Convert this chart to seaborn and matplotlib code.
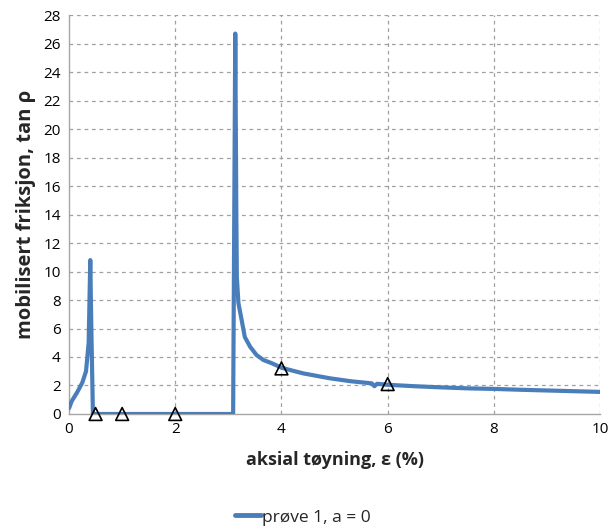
import matplotlib
matplotlib.use("Agg")
import matplotlib.pyplot as plt
import seaborn as sns
import pandas as pd

# data
strain = [0.0, 0.05, 0.15, 0.25, 0.32, 0.37, 0.40, 0.42, 0.44, 0.45, 0.5, 1.0, 2.0, 3.0, 3.09,
          3.12, 3.13, 3.15, 3.16, 3.19, 3.25, 3.31, 3.41, 3.53, 3.66, 3.82, 4.0, 4.2, 4.41, 4.7, 4.92,
          5.3, 5.7, 5.75, 5.8, 6.0, 6.5, 7.0, 7.5, 8.0, 8.5, 9.0, 9.5, 10.0]
tan_rho = [0.4, 0.9, 1.5, 2.2, 3.0, 5.0, 10.8, 6.0, 2.0, 0.0, 0.0, 0.0, 0.0, 0.0, 0.0,
           20.0, 26.7, 14.0, 9.6, 7.77, 6.6, 5.4, 4.72, 4.14, 3.79, 3.56, 3.25, 3.05, 2.85, 2.65, 2.5,
           2.3, 2.15, 1.95, 2.12, 2.05, 1.95, 1.87, 1.8, 1.76, 1.7, 1.65, 1.6, 1.55]
mark_x = [0.5, 1.0, 2.0, 4.0, 6.0]
mark_y = [0.0, 0.0, 0.0, 3.2, 2.1]
series_label = "prøve 1, a = 0"

sns.set_theme(style="white")
plt.rcParams['font.family'] = ['Open Sans', 'DejaVu Sans']

df = pd.DataFrame({"x": strain, "y": tan_rho, "s": series_label})

fig = plt.figure(figsize=(6.13, 5.29), dpi=100)
ax = fig.add_axes([0.1126, 0.2174, 0.8664, 0.7542])

for v in [2, 4, 6, 8, 10]:
    ax.axvline(v, color="#a0a0a0", lw=0.9, ls=(0, (3, 3)), zorder=0)
for h in range(2, 29, 2):
    ax.axhline(h, color="#a0a0a0", lw=0.9, ls=(0, (3, 3)), zorder=0)

sns.lineplot(data=df, x="x", y="y", hue="s", palette=["#4a7ebb"], lw=3.0,
             ax=ax, sort=False, estimator=None, zorder=3)
sns.scatterplot(x=mark_x, y=mark_y, marker="^", s=85, facecolor="none",
                edgecolor="black", linewidth=1.2, ax=ax, zorder=4, clip_on=False,
                legend=False)

ax.set_xlim(0, 10)
ax.set_ylim(0, 28)
ax.set_xticks(range(0, 11, 2))
ax.set_yticks(range(0, 29, 2))
ax.tick_params(axis="both", labelsize=11, colors="#000000", length=0, pad=6)
for sp in ["top", "right"]:
    ax.spines[sp].set_visible(False)
for sp in ["left", "bottom"]:
    ax.spines[sp].set_color("#a6a6a6")
    ax.spines[sp].set_linewidth(1.0)

ax.set_xlabel("aksial tøyning, ε (%)", fontsize=13, fontweight="bold", labelpad=10)
ax.set_ylabel("mobilisert friksjon, tan ρ", fontsize=14.5, fontweight="bold", labelpad=5)

leg = ax.legend(loc="upper center", bbox_to_anchor=(0.44, -0.2), frameon=False,
                fontsize=12.5, handlelength=1.5, handletextpad=0.05)
for ln in leg.get_lines():
    ln.set_linewidth(3.5)

fig.savefig("out.png", dpi=100)
